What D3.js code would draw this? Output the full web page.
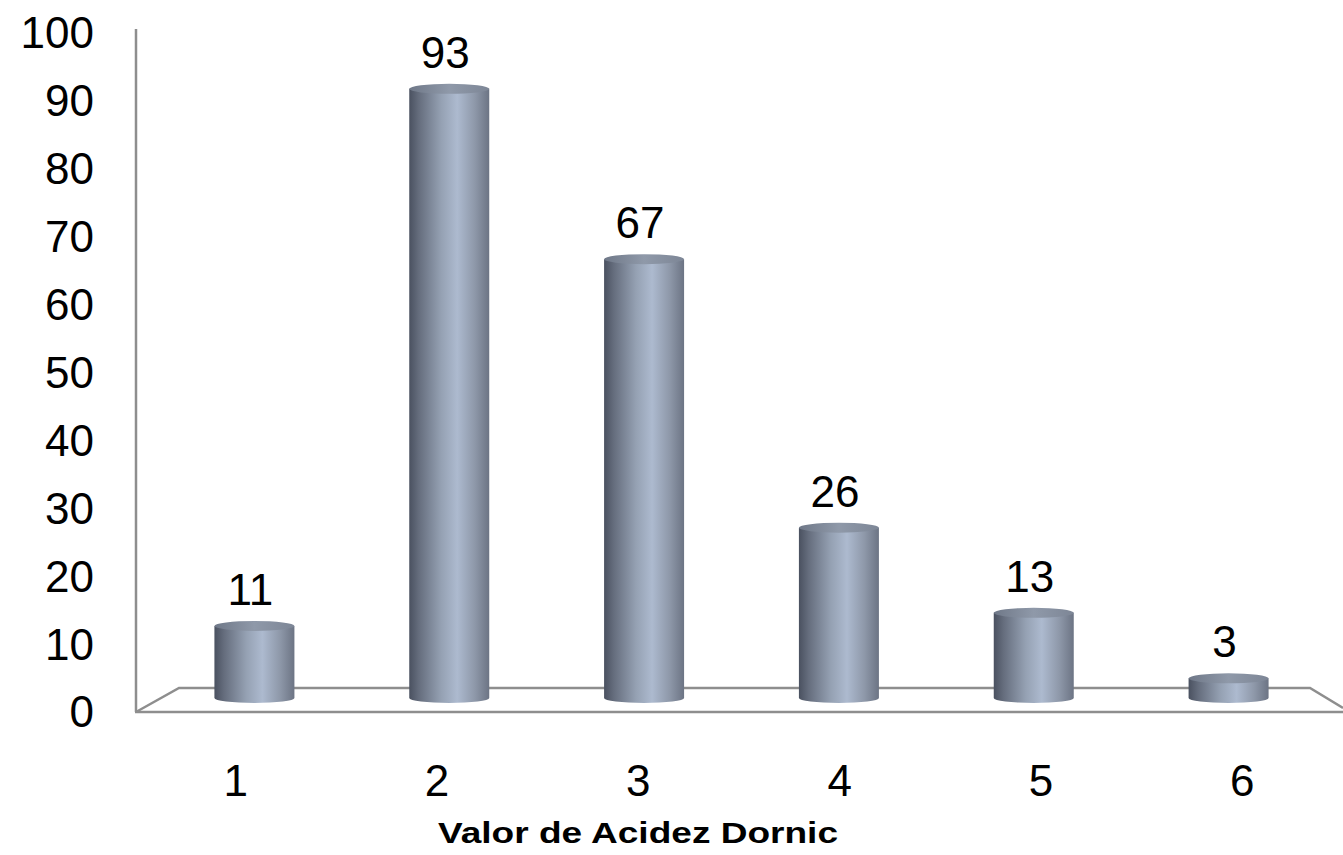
<!DOCTYPE html>
<html>
<head>
<meta charset="utf-8">
<script src="https://cdn.jsdelivr.net/npm/d3@7"></script>
<style>
  body { margin: 0; background: #fff; }
  text { font-family: "Liberation Sans", Arial, sans-serif; fill: #000; }
</style>
</head>
<body>
<svg id="chart" width="1343" height="855"></svg>
<script>
// data
const categories = ["1", "2", "3", "4", "5", "6"];
const values = [11, 93, 67, 26, 13, 3];
const yTicks = [0, 10, 20, 30, 40, 50, 60, 70, 80, 90, 100];
const xTitle = "Valor de Acidez Dornic";

const width = 1343, height = 855;
const svg = d3.select("#chart");

// front plane (axis, labels) and mid-depth plane (bars) of the 3D floor
const xFront = d3.scaleBand().domain(categories).range([135, 1343]);
const xMid = d3.scaleBand().domain(categories).range([157, 1326]);
const yAxisScale = d3.scaleLinear().domain([0, 100]).range([712, 33]);
const yBar = d3.scaleLinear().domain([0, 100]).range([698, 43]);

// gradients for cylinders
const defs = svg.append("defs");
const sideGrad = defs.append("linearGradient").attr("id", "side")
  .attr("x1", "0%").attr("x2", "100%").attr("y1", "0%").attr("y2", "0%");
[["0%", "#4a5160"], ["12%", "#656d7d"], ["40%", "#95a1b3"], ["60%", "#adbacf"],
 ["82%", "#8e98a9"], ["100%", "#6c7484"]].forEach(([o, c]) =>
  sideGrad.append("stop").attr("offset", o).attr("stop-color", c));
const topGrad = defs.append("linearGradient").attr("id", "topg")
  .attr("x1", "0%").attr("x2", "100%").attr("y1", "0%").attr("y2", "0%");
[["0%", "#6f7888"], ["50%", "#8f99a9"], ["100%", "#7d8696"]].forEach(([o, c]) =>
  topGrad.append("stop").attr("offset", o).attr("stop-color", c));

// floor + axis line
const floorG = svg.append("g").attr("fill", "none").attr("stroke", "#8e8e8e").attr("stroke-width", 2.5);
floorG.append("line").attr("x1", 136).attr("y1", 29).attr("x2", 136).attr("y2", yAxisScale(0));
floorG.append("line").attr("x1", 135).attr("y1", yAxisScale(0)).attr("x2", 1343).attr("y2", yAxisScale(0));
floorG.append("polyline")
  .attr("points", [[136, yAxisScale(0)], [179, 688], [1310, 688], [1343, 708]].map(p => p.join(",")).join(" "));

// y tick labels
svg.append("g").selectAll("text")
  .data(yTicks)
  .join("text")
    .attr("x", 94)
    .attr("y", d => yAxisScale(d))
    .attr("dy", "0.35em")
    .attr("text-anchor", "end")
    .attr("font-size", 44)
    .text(d => d);

// cylinders
const bw = 80, ry = 5;
const bars = svg.append("g").selectAll("g")
  .data(categories.map((c, i) => ({ c, v: values[i] })))
  .join("g")
    .attr("transform", d => "translate(" + (xMid(d.c) + xMid.bandwidth() / 2) + ",0)");

bars.append("path")
  .attr("fill", "url(#side)")
  .attr("d", d => {
    const y0 = yBar(0), y1 = yBar(d.v);
    return "M" + (-bw / 2) + "," + y1 +
      " L" + (-bw / 2) + "," + y0 +
      " A" + (bw / 2) + "," + ry + " 0 0 0 " + (bw / 2) + "," + y0 +
      " L" + (bw / 2) + "," + y1 + " Z";
  });
bars.append("ellipse")
  .attr("cx", 0).attr("cy", d => yBar(d.v))
  .attr("rx", bw / 2).attr("ry", ry)
  .attr("fill", "url(#topg)");

// value labels
bars.append("text")
  .attr("x", -4)
  .attr("y", d => yBar(d.v) - 21)
  .attr("text-anchor", "middle")
  .attr("font-size", 44)
  .text(d => d.v);

// category labels on the front edge
svg.append("g").selectAll("text")
  .data(categories)
  .join("text")
    .attr("x", d => xFront(d) + xFront.bandwidth() / 2)
    .attr("y", 781)
    .attr("dy", "0.35em")
    .attr("text-anchor", "middle")
    .attr("font-size", 44)
    .text(d => d);

// axis title
svg.append("text")
  .attr("x", 438)
  .attr("y", 843)
  .attr("font-size", 30)
  .attr("font-weight", "bold")
  .attr("textLength", 400)
  .attr("lengthAdjust", "spacingAndGlyphs")
  .text(xTitle);
</script>
</body>
</html>
